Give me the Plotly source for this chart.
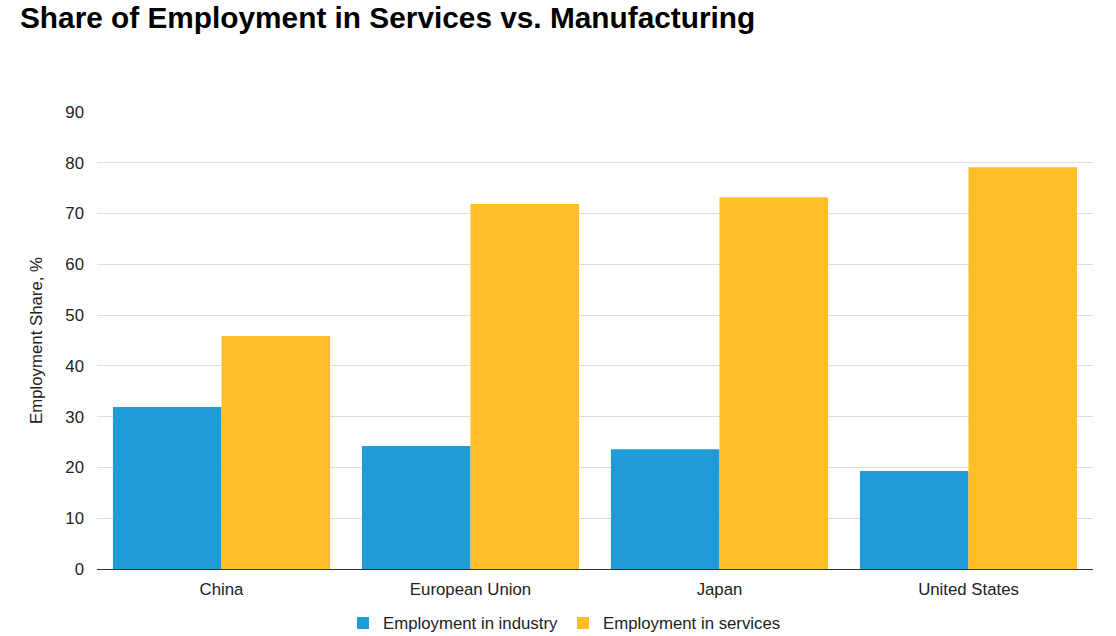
import plotly.graph_objects as go

categories = ["China", "European Union", "Japan", "United States"]
industry = [31.9, 24.2, 23.6, 19.3]
services = [45.9, 71.9, 73.2, 79.1]
y_ticks = [0, 10, 20, 30, 40, 50, 60, 70, 80, 90]

FONT = "Liberation Sans, Arial, sans-serif"
FS = 16.8

fig = go.Figure()
fig.add_trace(go.Bar(name="Employment in industry", x=categories, y=industry,
                     marker=dict(color="#1F9BD7", line=dict(width=0))))
fig.add_trace(go.Bar(name="Employment in services", x=categories, y=services,
                     marker=dict(color="#FEBE28", line=dict(width=0))))

fig.update_layout(
    width=1116, height=636,
    paper_bgcolor="white", plot_bgcolor="white",
    barmode="group", bargap=0.128, bargroupgap=0,
    margin=dict(l=97, r=23, t=112, b=67, autoexpand=False),
    font=dict(family=FONT, color="#222222", size=FS),
    title=dict(text="<b>Share of Employment in Services vs. Manufacturing</b>",
               x=20 / 1116, xanchor="left", y=0.973, yanchor="middle",
               font=dict(family=FONT, size=29.8, color="#000000")),
    xaxis=dict(showgrid=False, showline=True, linecolor="#333333", linewidth=1,
               ticks="", tickfont=dict(size=FS, color="#222222"), ticklabelstandoff=5),
    yaxis=dict(range=[0, 90], tickvals=y_ticks, showgrid=True, gridcolor="#DDDDDD",
               gridwidth=1, zeroline=False, showline=False, ticks="",
               tickfont=dict(size=FS, color="#222222"), ticklabelstandoff=12,
               title=dict(text="Employment Share, %", font=dict(size=FS, color="#222222"),
                          standoff=18)),
    legend=dict(orientation="h", xref="container", x=0.5058, xanchor="center",
                yref="container", y=1 - 623 / 636, yanchor="middle",
                font=dict(size=FS, color="#222222"), itemsizing="constant",
                traceorder="normal", itemwidth=30),
    showlegend=True,
)

fig.write_html("out.html", config={"displayModeBar": False},
               post_script="document.body.style.margin='0';")
